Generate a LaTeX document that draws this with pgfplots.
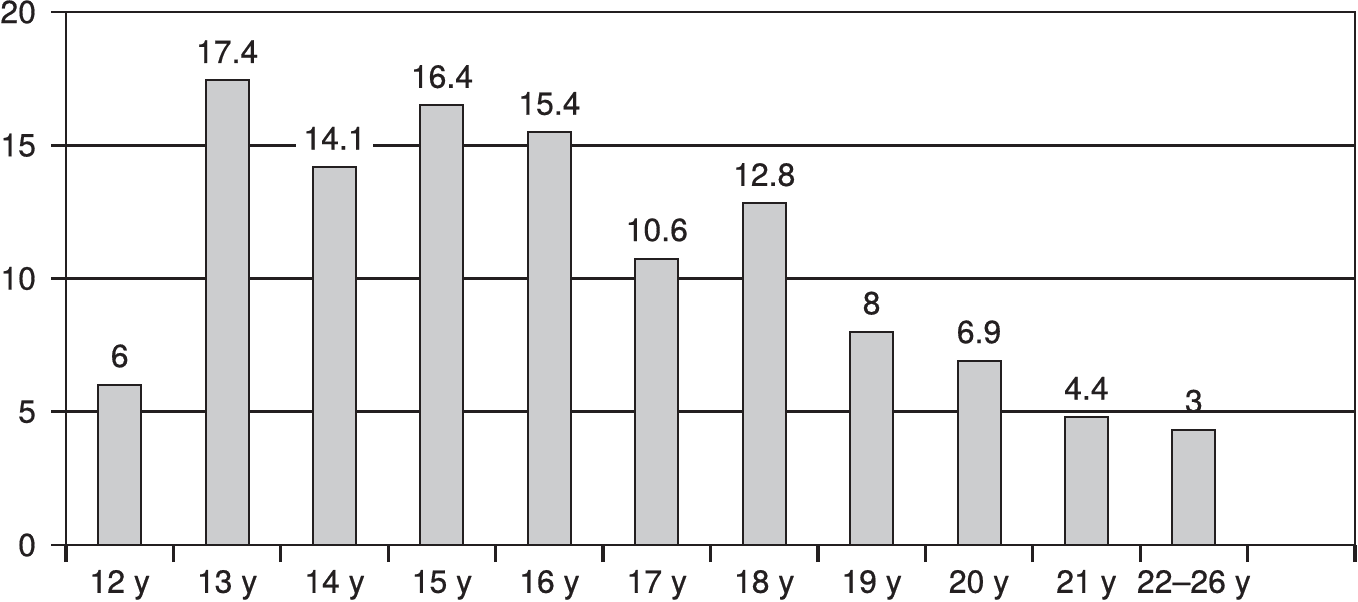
\documentclass[border=0pt]{standalone}
\usepackage{pgfplots}
\pgfplotsset{compat=1.18}
\usepackage{pgfplotstable}
\usepackage{fontspec}
\setmainfont{TeX Gyre Heros}[FakeBold=0.5]
\definecolor{ink}{RGB}{35,31,32}
\definecolor{barfill}{RGB}{204,205,207}
\pgfplotstableread{
x y lab
0 6.02 6
1 17.45 17.4
2 14.2 14.1
3 16.5 16.4
4 15.49 15.4
5 10.75 10.6
6 12.82 12.8
7 8.0 8
8 6.92 6.9
9 4.82 4.4
10 4.32 3
}\data
\pgfplotstableread{
x y lab
2 14.2 14.1
}\datafill
\begin{document}
\begin{tikzpicture}
\begin{axis}[
  scale only axis, width=644.5pt, height=266.5pt,
  xmin=-0.5, xmax=11.5, ymin=0, ymax=20,
  clip=false,
  axis line style={ink, line width=1.4pt},
  ytick={0,5,10,15,20},
  ymajorgrids, grid style={ink, line width=1.4pt},
  xtick={0,...,10},
  xticklabels={12 y,13 y,14 y,15 y,16 y,17 y,18 y,19 y,20 y,21 y,22--26 y},
  minor xtick={-0.5,0.5,...,11.5},
  tick pos=left,
  tick align=outside, major tick length=7.5pt, minor tick length=8.5pt,
  major x tick style={draw=none},
  minor x tick style={ink, line width=1.6pt},
  major y tick style={ink, line width=1.4pt},
  ticklabel style={font=\fontsize{16}{19}\selectfont, text=ink},
  /pgf/number format/assume math mode=true,
  yticklabel style={xshift=-4pt},
  xticklabel style={yshift=-1.5pt},
]
\addplot[ybar, bar width=0.4, bar shift=0pt, fill=barfill, draw=ink, line width=1pt,
  nodes near coords, point meta=explicit symbolic,
  every node near coord/.append style={font=\fontsize{16}{19}\selectfont, text=ink, anchor=south, inner ysep=1pt, yshift=7pt}]
  table[x=x, y=y, meta=lab]{\data};
\addplot[ybar, bar width=0.4, bar shift=0pt, fill=barfill, draw=ink, line width=1pt,
  nodes near coords, point meta=explicit symbolic,
  every node near coord/.append style={font=\fontsize{16}{19}\selectfont, text=ink, fill=white, anchor=south, inner ysep=1pt, inner xsep=3.5pt, yshift=7pt}]
  table[x=x, y=y, meta=lab]{\datafill};
\end{axis}
\pgfresetboundingbox
\path[use as bounding box] ([xshift=-33pt,yshift=-28pt]current axis.south west) rectangle ([xshift=1.5pt,yshift=6pt]current axis.north east);
\end{tikzpicture}
\end{document}
